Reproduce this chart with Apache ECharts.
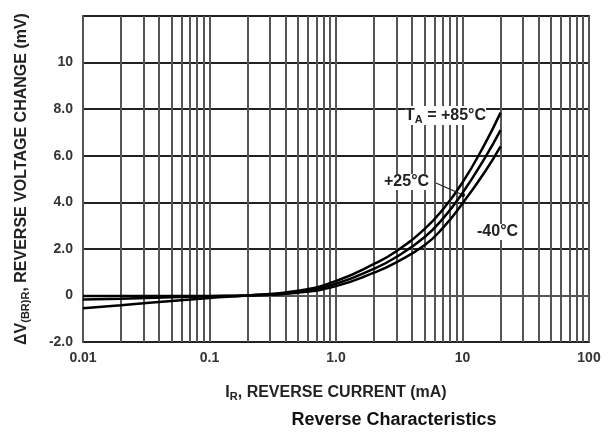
<!DOCTYPE html>
<html>
<head>
<meta charset="utf-8">
<script src="https://cdn.jsdelivr.net/npm/echarts@6/dist/echarts.min.js"></script>
<style>html,body{margin:0;padding:0;background:#fff}#c{width:611px;height:432px}</style>
</head>
<body>
<div id="c"></div>
<script>
// Reverse current, mA
var currents = [0.01, 0.02, 0.05, 0.1, 0.2, 0.5, 1, 2, 3, 5, 7, 10, 15, 20];
// Reverse voltage change, mV
var v85  = [-0.55, -0.42, -0.24, -0.11, 0.0, 0.2, 0.62, 1.35, 1.9, 2.85, 3.7, 4.85, 6.5, 7.85];
var v25  = [-0.18, -0.14, -0.08, -0.04, 0.0, 0.15, 0.5, 1.15, 1.65, 2.5, 3.3, 4.4, 5.9, 7.1];
var vm40 = [-0.02, -0.02, -0.02, -0.02, 0.0, 0.12, 0.4, 0.98, 1.42, 2.15, 2.9, 3.95, 5.3, 6.4];

var xTickValues = [0.01, 0.1, 1, 10, 100];
var xTickLabels = ['0.01', '0.1', '1.0', '10', '100'];
var yTickValues = [-2, 0, 2, 4, 6, 8, 10, 12];
var yTickLabels = ['-2.0', '0', '2.0', '4.0', '6.0', '8.0', '10', ''];
var decades = [0.01, 0.1, 1, 10];
var minorMultipliers = [2, 3, 4, 5, 6, 7, 8, 9];

var minorX = [];
decades.forEach(function (d) {
  minorMultipliers.forEach(function (m) { minorX.push(+(d * m).toPrecision(3)); });
});

function pairs(ys) { return currents.map(function (x, i) { return [x, ys[i]]; }); }

var FONT = '"Liberation Sans", Arial, sans-serif';
var TXT = '#222';
var GRID = '#555';

var chart = echarts.init(document.getElementById('c'), null, { renderer: 'canvas' });
var curveStyle = { color: '#000', width: 2.5 };

var nameRich = {
  n: { fontFamily: FONT, fontWeight: 'bold', fontSize: 16, color: TXT, lineHeight: 19 },
  s: { fontFamily: FONT, fontWeight: 'bold', fontSize: 11, color: TXT, lineHeight: 19, verticalAlign: 'bottom', padding: [8, 0, 0, 0] }
};
var annRich = {
  n: { fontFamily: FONT, fontWeight: 'bold', fontSize: 16, fill: TXT, lineHeight: 19 },
  s: { fontFamily: FONT, fontWeight: 'bold', fontSize: 11, fill: TXT, lineHeight: 19, verticalAlign: 'bottom', padding: [8, 0, 0, 0] }
};

chart.setOption({
  animation: false,
  backgroundColor: '#fff',
  title: {
    text: 'Reverse Characteristics',
    left: 389, top: 406, textAlign: 'center',
    textStyle: { fontFamily: FONT, fontWeight: 'bold', fontSize: 18, color: '#111' }
  },
  grid: { left: 83, right: 22, top: 16, bottom: 90, show: true, borderColor: GRID, borderWidth: 2 },
  xAxis: {
    type: 'log', logBase: 10, min: 0.01, max: 100,
    name: '{n|I}{s|R}{n|, REVERSE CURRENT (mA)}',
    nameLocation: 'middle', nameGap: 41,
    nameTextStyle: { rich: nameRich },
    axisLine: { show: true, lineStyle: { color: GRID, width: 2 } },
    axisTick: { show: false },
    axisLabel: {
      fontFamily: FONT, fontWeight: 'bold', fontSize: 14, color: '#333', margin: 9,
      formatter: function (v) {
        for (var i = 0; i < xTickValues.length; i++) if (Math.abs(Math.log10(v) - Math.log10(xTickValues[i])) < 1e-6) return xTickLabels[i];
        return '';
      }
    },
    splitLine: { show: true, lineStyle: { color: GRID, width: 2 } }
  },
  yAxis: {
    type: 'value', min: -2, max: 12, interval: 2,
    name: '{n|ΔV}{s|(BR)R}{n|, REVERSE VOLTAGE CHANGE (mV)}',
    nameLocation: 'middle', nameGap: 52, nameRotate: 90,
    nameTextStyle: { rich: nameRich },
    axisLine: { show: true, lineStyle: { color: GRID, width: 2 } },
    axisTick: { show: false },
    axisLabel: {
      fontFamily: FONT, fontWeight: 'bold', fontSize: 14, color: '#333', margin: 10,
      formatter: function (v) {
        var i = yTickValues.indexOf(v);
        return i >= 0 ? yTickLabels[i] : '';
      }
    },
    splitLine: { show: true, lineStyle: { color: '#222', width: 2 } }
  },
  series: [
    {
      name: 'grid', type: 'line', data: [], silent: true, z: 1,
      markLine: {
        silent: true, symbol: ['none', 'none'], label: { show: false },
        lineStyle: { color: GRID, width: 2, type: 'solid' },
        data: minorX.map(function (v) { return { xAxis: v }; })
      }
    },
    { name: '+85°C', type: 'line', smooth: true, showSymbol: false, z: 5, lineStyle: curveStyle, data: pairs(v85) },
    { name: '+25°C', type: 'line', smooth: true, showSymbol: false, z: 5, lineStyle: curveStyle, data: pairs(v25) },
    { name: '-40°C', type: 'line', smooth: true, showSymbol: false, z: 5, lineStyle: curveStyle, data: pairs(vm40) }
  ],
  graphic: [
    { type: 'text', left: 405, top: 106, z: 10,
      style: { text: '{n|T}{s|A}{n| = +85°C}', fill: TXT, backgroundColor: '#fff', rich: annRich } },
    { type: 'text', left: 384, top: 174, z: 10,
      style: { text: '+25°C', font: 'bold 16px ' + FONT, fill: TXT, backgroundColor: '#fff' } },
    { type: 'line', z: 10, shape: { x1: 436, y1: 183, x2: 463, y2: 195 }, style: { stroke: '#222', lineWidth: 1.3 } },
    { type: 'circle', z: 10, shape: { cx: 463, cy: 195, r: 2 }, style: { fill: '#000' } },
    { type: 'text', left: 477, top: 224, z: 10,
      style: { text: '-40°C', font: 'bold 16px ' + FONT, fill: TXT, backgroundColor: '#fff' } }
  ]
});
</script>
</body>
</html>
